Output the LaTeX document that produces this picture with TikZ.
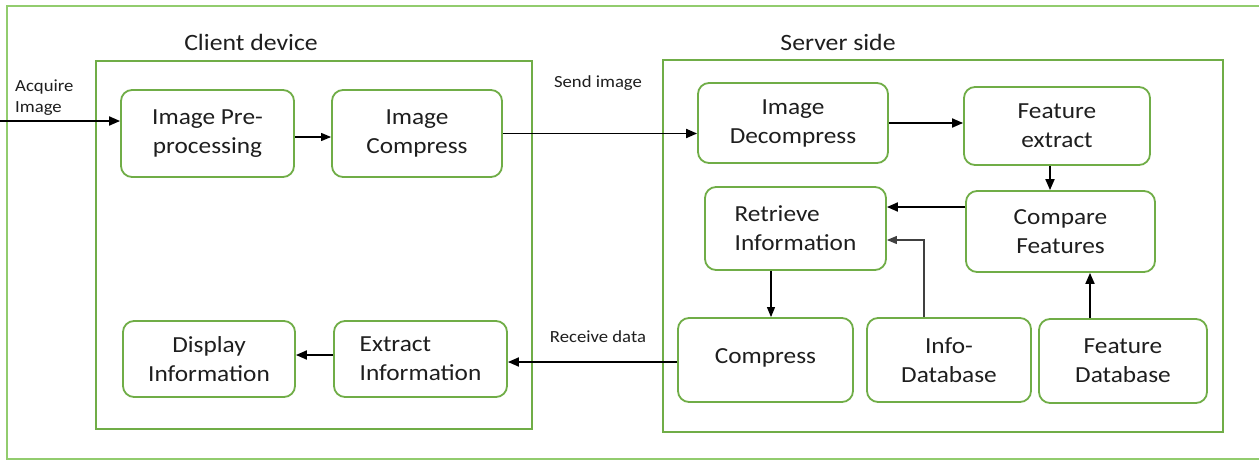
\documentclass[tikz,border=0pt]{standalone}
\usepackage{fontspec}
\setmainfont{Carlito}[FakeStretch=1.1]
\usetikzlibrary{arrows.meta}

\definecolor{boxgreen}{RGB}{112,173,71}
\definecolor{framegreen}{RGB}{146,204,110}
\definecolor{txt}{RGB}{30,30,30}

\begin{document}
\begin{tikzpicture}[x=1pt,y=-1pt,
  every node/.style={text=txt, inner sep=0pt},
  stepbox/.style={draw=boxgreen, line width=1.8pt, rounded corners=11pt,
                  align=center, font=\fontsize{23}{29}\selectfont},
  group/.style={draw=boxgreen, line width=2.8pt},
  title/.style={font=\fontsize{23.4}{28}\selectfont},
  small/.style={font=\fontsize{17}{21}\selectfont},
  flow/.style={line width=1.8pt, -{Triangle[length=11pt,width=9pt]}},
  thinflow/.style={line width=1.1pt, -{Triangle[length=10pt,width=8pt]}},
]
\useasboundingbox (0,0) rectangle (1259,461);

% outer frame (open on the right)
\draw[framegreen, line width=2.2pt] (1262,6) -- (7,6) -- (7,459) -- (1262,459);

% the two sides
\draw[group] (96,61) rectangle (532,429);
\draw[group] (663,60) rectangle (1223,432);
\node[title] (tclient) at (251,42) {Client device};
\node[title] (tserver) at (838,42) {Server side};

% client steps
\node[stepbox, minimum width=173pt, minimum height=87pt] (pre)    at (207.5,133.5) {Image Pre-\\processing};
\node[stepbox, minimum width=170pt, minimum height=87pt] (icomp)  at (417,133.5)   {Image\\Compress};
\node[stepbox, minimum width=172pt, minimum height=76pt] (disp)   at (209,359)     {Display\\Information};
\node[stepbox, minimum width=173pt, minimum height=76pt, align=left] (extr) at (420.5,359) {Extract\\Information};

% server steps
\node[stepbox, minimum width=190pt, minimum height=80pt] (decomp) at (793,123)     {Image\\Decompress};
\node[stepbox, minimum width=186pt, minimum height=78pt] (fext)   at (1057,126)    {Feature\\extract};
\node[stepbox, minimum width=189pt, minimum height=81pt] (cmpf)   at (1060.5,231.5) {Compare\\Features};
\node[stepbox, minimum width=181pt, minimum height=83pt, align=left] (retr) at (795.5,228.5) {Retrieve\\Information};
\node[stepbox, minimum width=175pt, minimum height=84pt] (comp)   at (765.5,360)   {\raisebox{7pt}{Compress}};
\node[stepbox, minimum width=164pt, minimum height=84pt] (infodb) at (949,360)     {Info-\\Database};
\node[stepbox, minimum width=168pt, minimum height=84pt] (fdb)    at (1123,361)    {Feature\\Database};

% input
\coordinate (acq) at (0,121);
\node[small, align=left, anchor=west] (lacq) at (15,97.5) {Acquire\\Image};
\draw[flow] (acq) -- (acq -| pre.west);

% client flow
\draw[thinflow] ([yshift=-3.5pt]pre.east) -- ([yshift=-3.5pt]pre.east -| icomp.west);
\draw[flow] ([yshift=4pt]extr.west) -- ([yshift=4pt]extr.west -| disp.east);

% link to the server and back
\node[small] (lsend) at (598,83) {Send image};
\draw[flow] (icomp.east) -- (icomp.east -| decomp.west);
\node[small] (lrecv) at (598,337) {Receive data};
\draw[flow] ([yshift=-2pt]comp.west) -- ([yshift=-2pt]comp.west -| extr.east);

% server flow
\draw[flow] (decomp.east) -- (decomp.east -| fext.west);
\draw[flow] ([xshift=-7pt]fext.south) -- ([xshift=-7pt]fext.south |- cmpf.north);
\draw[flow] ([yshift=24.5pt]cmpf.west) -- ([yshift=24.5pt]cmpf.west -| retr.east);
\draw[flow] ([xshift=-33pt]fdb.north) -- ([xshift=-33pt]fdb.north |- cmpf.south);
\draw[thinflow, draw=black!75] ([xshift=-25pt]infodb.north) |- ([yshift=-11.5pt]retr.east);
\draw[thinflow] ([xshift=-24.5pt]retr.south) -- ([xshift=-24.5pt]retr.south |- comp.north);
\end{tikzpicture}
\end{document}
